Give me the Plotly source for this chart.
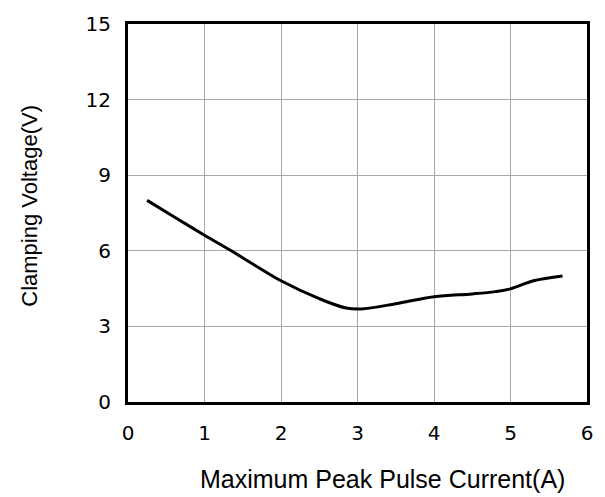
import plotly.graph_objects as go

current_a = [0.25, 0.6, 1.0, 1.35, 1.7, 2.0, 2.5, 2.85, 3.05, 3.5, 4.0, 4.5, 4.8, 5.0, 5.3, 5.68]
clamp_v = [8.0, 7.35, 6.62, 6.0, 5.35, 4.81, 4.1, 3.73, 3.69, 3.9, 4.18, 4.29, 4.38, 4.49, 4.81, 5.0]

x_ticks = [0, 1, 2, 3, 4, 5, 6]
y_ticks = [0, 3, 6, 9, 12, 15]

fig = go.Figure()
fig.add_trace(go.Scatter(
    x=current_a, y=clamp_v, mode="lines",
    line=dict(color="black", width=3, shape="spline", smoothing=1.0),
    showlegend=False, hoverinfo="skip",
))

axis_common = dict(
    showline=True, linecolor="black", linewidth=3, mirror=True,
    showgrid=True, gridcolor="#a8a8a8", gridwidth=1,
    zeroline=False, ticks="",
    tickfont=dict(family="DejaVu Sans", size=20, color="black"),
)

fig.update_xaxes(range=[0, 6], tickvals=x_ticks, ticktext=[str(v) for v in x_ticks],
                 ticklabelstandoff=11, **axis_common)
fig.update_yaxes(range=[0, 15], tickvals=y_ticks, ticktext=[str(v) for v in y_ticks],
                 ticklabelstandoff=10, **axis_common)

fig.add_annotation(text="Maximum Peak Pulse Current(A)", xref="paper", yref="paper",
                   x=0.555, y=-0.203, xanchor="center", yanchor="middle", showarrow=False,
                   font=dict(family="Liberation Sans, Arial", size=25, color="black"))
fig.add_annotation(text="Clamping Voltage(V)", xref="paper", yref="paper",
                   x=-0.215, y=0.52, xanchor="center", yanchor="middle", textangle=-90,
                   showarrow=False,
                   font=dict(family="Liberation Sans, Arial", size=22, color="black"))

fig.update_layout(
    width=605, height=497,
    margin=dict(l=128, r=17, t=16, b=95),
    paper_bgcolor="white", plot_bgcolor="white",
)

fig.write_html("out.html", config={"displayModeBar": False},
               post_script="document.body.style.margin='0';document.body.style.padding='0';")
